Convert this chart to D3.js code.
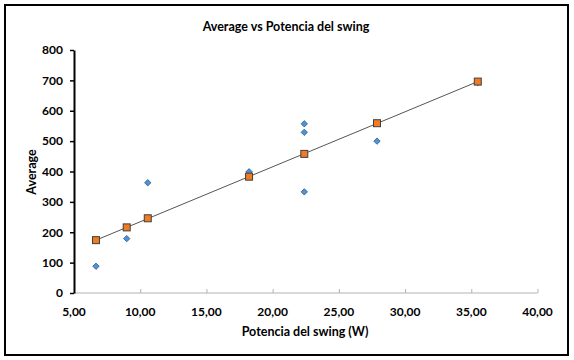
<!DOCTYPE html>
<html>
<head>
<meta charset="utf-8">
<script src="https://cdn.jsdelivr.net/npm/d3@7"></script>
<style>
  body { margin: 0; background: #fff; }
  svg text { font-family: Lato, "Open Sans", sans-serif; font-weight: bold; fill: #000; }
</style>
</head>
<body>
<svg id="chart" width="574" height="360"></svg>
<script>
// observed values
var obsX = [6.66, 8.98, 10.57, 18.22, 22.39, 22.39, 22.39, 27.88, 35.49];
var obsY = [88, 179, 363, 399, 557, 529, 333, 500, 693];

// fitted values (on the trend line)
var fitX = [6.66, 8.98, 10.57, 18.22, 22.39, 27.88, 35.49];
var fitY = [174, 216, 246, 383, 458, 559, 696];

var xTicks = [5, 10, 15, 20, 25, 30, 35, 40],
    yTicks = [0, 100, 200, 300, 400, 500, 600, 700, 800];

var svg = d3.select("#chart");

// frame
svg.append("rect")
    .attr("x", 5).attr("y", 5)
    .attr("width", 563).attr("height", 350)
    .attr("fill", "#fff")
    .attr("stroke", "#000")
    .attr("stroke-width", 2);

var x = d3.scaleLinear().domain([5, 40]).range([74, 537.5]),
    y = d3.scaleLinear().domain([0, 800]).range([293, 50]);

var fmt = function(d) { return d3.format(".2f")(d).replace(".", ","); };

// x axis
var xAxis = svg.append("g")
    .attr("transform", "translate(0," + y(0) + ")")
    .call(d3.axisTop(x).tickValues(xTicks).tickSize(4).tickFormat(""));
xAxis.selectAll("path, line").attr("stroke", "#b3b3b3");
xAxis.select(".domain").attr("d", "M" + x(5) + ",0H" + x(40));

svg.selectAll(".xlab")
    .data(xTicks)
  .enter().append("text")
    .attr("class", "xlab")
    .attr("x", function(d) { return x(d); })
    .attr("y", 316)
    .attr("text-anchor", "middle")
    .attr("font-size", "12px")
    .text(fmt);

// y axis
var yAxis = svg.append("g")
    .attr("transform", "translate(" + x(5) + ",0)")
    .call(d3.axisLeft(y).tickValues(yTicks).tickSize(4).tickSizeOuter(0).tickPadding(7));
yAxis.select(".domain").attr("stroke", "#000").attr("stroke-width", 2);
yAxis.selectAll("line").attr("stroke", "#000").attr("stroke-width", 1.5);
yAxis.selectAll("text")
    .attr("font-size", "12px")
    .attr("font-family", "Lato, sans-serif")
    .attr("font-weight", "bold")
    .attr("fill", "#000");

// trend line
svg.append("line")
    .attr("x1", x(fitX[0])).attr("y1", y(fitY[0]))
    .attr("x2", x(fitX[fitX.length - 1])).attr("y2", y(fitY[fitY.length - 1]))
    .attr("stroke", "#555")
    .attr("stroke-width", 1);

// observed diamonds
svg.selectAll(".obs")
    .data(obsX)
  .enter().append("rect")
    .attr("class", "obs")
    .attr("width", 4.5).attr("height", 4.5)
    .attr("x", -2.25).attr("y", -2.25)
    .attr("transform", function(d, i) {
      return "translate(" + x(d) + "," + y(obsY[i]) + ")rotate(45)";
    })
    .attr("fill", "#4f93d6")
    .attr("stroke", "#2e5f8e")
    .attr("stroke-width", 0.8);

// fitted squares
svg.selectAll(".fit")
    .data(fitX)
  .enter().append("rect")
    .attr("class", "fit")
    .attr("x", function(d) { return x(d) - 3.5; })
    .attr("y", function(d, i) { return y(fitY[i]) - 3.5; })
    .attr("width", 7).attr("height", 7)
    .attr("fill", "#f07b22")
    .attr("stroke", "#404040")
    .attr("stroke-width", 1);

// titles
svg.append("text")
    .attr("x", 286).attr("y", 31)
    .attr("text-anchor", "middle")
    .attr("font-size", "12.5px")
    .text("Average vs Potencia del swing");

svg.append("text")
    .attr("x", 305).attr("y", 336)
    .attr("text-anchor", "middle")
    .attr("font-size", "12.5px")
    .text("Potencia del swing (W)");

svg.append("text")
    .attr("transform", "translate(36,172)rotate(-90)")
    .attr("text-anchor", "middle")
    .attr("font-size", "12.5px")
    .text("Average");
</script>
</body>
</html>
